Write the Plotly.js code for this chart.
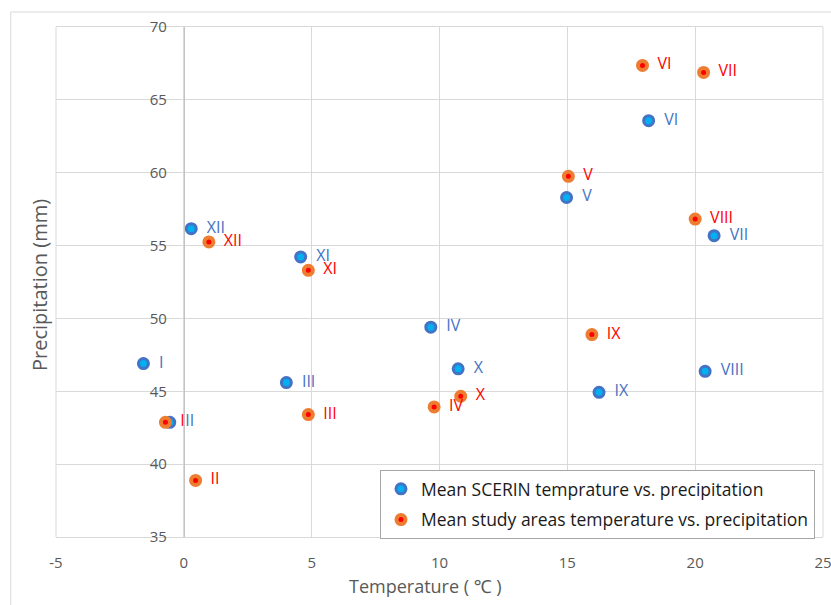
<!DOCTYPE html>
<html>
<head>
<meta charset="utf-8">
<script src="https://cdn.plot.ly/plotly-3.0.1.min.js"></script>
<style>html,body{margin:0;padding:0;background:#fff;}#chart{width:831px;height:605px;}</style>
</head>
<body>
<div id="chart"></div>
<script>
// Month labels
const months = ["I","II","III","IV","V","VI","VII","VIII","IX","X","XI","XII"];
// Mean SCERIN temperature (°C) and precipitation (mm)
const scerinTemp = [-1.58, -0.55, 4.01, 9.66, 14.97, 18.18, 20.74, 20.39, 16.24, 10.73, 4.57, 0.29];
const scerinPrec = [46.9, 42.87, 45.6, 49.4, 58.3, 63.57, 55.68, 46.37, 44.93, 46.54, 54.22, 56.16];
// Mean study areas temperature (°C) and precipitation (mm)
const studyTemp = [-0.72, 0.46, 4.87, 9.79, 15.04, 17.94, 20.33, 20.0, 15.96, 10.83, 4.87, 0.98];
const studyPrec = [42.87, 38.88, 43.4, 43.93, 59.75, 67.36, 66.88, 56.82, 48.89, 44.66, 53.3, 55.25];
// Axis ticks
const xTicks = [-5, 0, 5, 10, 15, 20, 25];
const yTicks = [35, 40, 45, 50, 55, 60, 65, 70];

const pad = '\u00A0\u00A0';
const FONT = 'Open Sans, Noto Sans, sans-serif';

const traces = [
  {
    x: scerinTemp, y: scerinPrec, text: months.map(m => pad + m),
    type: 'scatter', mode: 'markers+text', name: 'Mean SCERIN temprature vs. precipitation',
    legendgroup: 'a',
    textposition: 'middle right',
    textfont: {family: FONT, size: 16, color: '#4472C4'},
    marker: {size: 10, color: '#00B0F0', line: {color: '#4472C4', width: 3}},
    cliponaxis: false, hoverinfo: 'x+y'
  },
  {
    x: studyTemp, y: studyPrec, text: months.map(m => pad + m),
    type: 'scatter', mode: 'markers+text', name: 'Mean study areas temperature vs. precipitation',
    legendgroup: 'b',
    textposition: 'middle right',
    textfont: {family: FONT, size: 16, color: '#FF0000'},
    marker: {size: 9, color: '#FF0000', line: {color: '#ED7D31', width: 4}},
    cliponaxis: false, hoverinfo: 'x+y'
  }
];

const layout = {
  width: 831, height: 605,
  margin: {l: 56, r: 8, t: 27, b: 68},
  paper_bgcolor: '#fff', plot_bgcolor: '#fff',
  font: {family: FONT, color: '#595959'},
  showlegend: true,
  legend: {
    x: 0.4224, y: 0.1314, xanchor: 'left', yanchor: 'top',
    bgcolor: '#fff', bordercolor: '#A6A6A6', borderwidth: 1,
    font: {family: FONT, size: 17.5, color: '#1a1a1a'},
    tracegroupgap: 5, traceorder: 'grouped'
  },
  xaxis: {
    range: [-5, 25], tickvals: xTicks, ticktext: xTicks.map(String),
    showgrid: true, gridcolor: '#D9D9D9', gridwidth: 1,
    zeroline: false,
    showline: true, linecolor: '#D9D9D9', linewidth: 1, mirror: true,
    ticks: '', ticklabelstandoff: 12, ticklabeloverflow: 'allow',
    tickfont: {family: FONT, size: 15, color: '#595959'},
    fixedrange: true
  },
  yaxis: {
    range: [35, 70], tickvals: yTicks, ticktext: yTicks.map(String),
    anchor: 'free', position: 5/30,
    showgrid: true, gridcolor: '#D9D9D9', gridwidth: 1,
    zeroline: false, showline: true, linecolor: '#C4C4C4', linewidth: 1,
    ticks: '', ticklabelstandoff: 14,
    tickfont: {family: FONT, size: 15, color: '#595959'},
    fixedrange: true
  },
  shapes: [
    {type: 'rect', xref: 'paper', yref: 'paper', x0: -0.059, x1: 1.05, y0: -0.2, y1: 1.0294,
     line: {color: '#D9D9D9', width: 1}, fillcolor: 'rgba(0,0,0,0)', layer: 'below'},
    {type: 'line', xref: 'paper', yref: 'paper', x0: 0, x1: 0, y0: 0, y1: 1,
     line: {color: '#D9D9D9', width: 1}, layer: 'below'},
    {type: 'line', xref: 'paper', yref: 'paper', x0: 1, x1: 1, y0: 0, y1: 1,
     line: {color: '#D9D9D9', width: 1}, layer: 'below'}
  ],
  annotations: [
    {text: 'Precipitation (mm)', xref: 'paper', yref: 'paper', x: -0.0222, y: 0.494,
     xanchor: 'center', yanchor: 'middle', textangle: -90, showarrow: false,
     font: {family: FONT, size: 20, color: '#595959'}},
    {text: 'Temperature ( \u2103 )', xref: 'paper', yref: 'paper', x: 0.4817, y: -0.096,
     xanchor: 'center', yanchor: 'middle', showarrow: false,
     font: {family: FONT, size: 18, color: '#595959'}}
  ]
};

Plotly.newPlot('chart', traces, layout, {displayModeBar: false, staticPlot: true});
</script>
</body>
</html>
